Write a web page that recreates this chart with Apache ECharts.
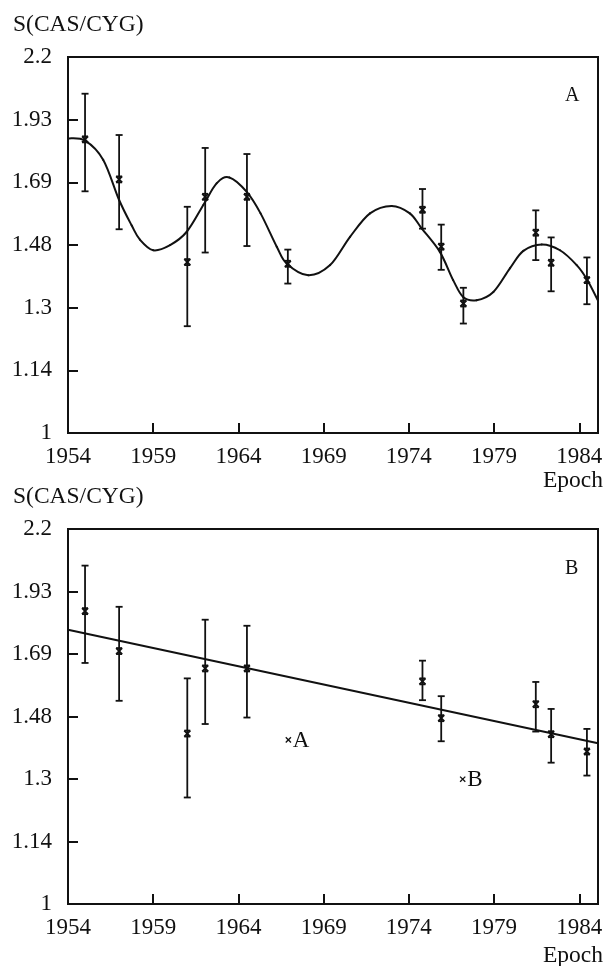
<!DOCTYPE html>
<html>
<head>
<meta charset="utf-8">
<script src="https://cdn.jsdelivr.net/npm/echarts@6/dist/echarts.min.js"></script>
<style>
  html, body { margin: 0; padding: 0; background: #fff; }
  #main { width: 606px; height: 966px; }
</style>
</head>
<body>
<div id="main"></div>
<script>
// measured flux ratios: epoch, value, lower and upper end of error bar
const epochs   = [1955.0, 1957.0, 1961.0, 1962.05, 1964.5, 1966.9, 1974.8, 1975.9, 1977.2, 1981.45, 1982.35, 1984.45];
const fluxS    = [1.851, 1.702, 1.431, 1.641, 1.641, 1.426, 1.597, 1.478, 1.312, 1.522, 1.429, 1.378];
const errLow   = [1.660, 1.533, 1.251, 1.460, 1.480, 1.368, 1.535, 1.408, 1.258, 1.437, 1.346, 1.310];
const errHigh  = [2.037, 1.868, 1.607, 1.818, 1.795, 1.469, 1.668, 1.548, 1.356, 1.595, 1.507, 1.445];

// fitted curve in panel A
const curveEpoch = [1954.0, 1955.0, 1956.07, 1957.0, 1957.74, 1958.22, 1959.0, 1959.99, 1960.97, 1961.94,
  1962.72, 1963.47, 1964.49, 1965.3, 1966.25, 1966.83, 1968.1, 1969.38, 1970.55, 1971.72, 1972.99,
  1974.06, 1974.75, 1975.82, 1976.6, 1977.19, 1977.98, 1978.96, 1979.94, 1980.72, 1981.8, 1982.87,
  1983.85, 1984.44, 1985.1];
const curveS = [1.855, 1.846, 1.773, 1.630, 1.545, 1.500, 1.467, 1.483, 1.525, 1.613,
  1.688, 1.709, 1.658, 1.585, 1.478, 1.427, 1.392, 1.422, 1.509, 1.585, 1.610,
  1.585, 1.536, 1.462, 1.378, 1.330, 1.321, 1.344, 1.413, 1.465, 1.485, 1.467,
  1.422, 1.381, 1.320];

// straight fit in panel B
const lineEpoch = [1954.0, 1985.1];
const lineS = [1.780, 1.402];

// points left out of the fit in panel B, drawn as labelled crosses
const dropInB = [5, 8];
const outEpoch = [1966.93, 1977.16];
const outS = [1.412, 1.300];
const outName = ['A', 'B'];

const yTickLabels = ['1', '1.14', '1.3', '1.48', '1.69', '1.93', '2.2'];
const yBase = Math.pow(2.2, 1 / 6);

const FONT = '"Liberation Serif", "Times New Roman", serif';
const INK = '#111';

const pointsA = epochs.map((e, i) => [e, fluxS[i], errLow[i], errHigh[i]]);
const pointsB = pointsA.filter((p, i) => dropInB.indexOf(i) < 0);

function errorBars(params, api) {
  const x = api.value(0);
  const mid = api.coord([x, api.value(1)]);
  const lo = api.coord([x, api.value(2)]);
  const hi = api.coord([x, api.value(3)]);
  const c = 3.5, m = 3;
  const st = { stroke: INK, lineWidth: 1.8 };
  const seg = (x1, y1, x2, y2) => ({ type: 'line', shape: { x1, y1, x2, y2 }, style: st });
  return {
    type: 'group',
    children: [
      seg(lo[0], lo[1], hi[0], hi[1]),
      seg(lo[0] - c, lo[1], lo[0] + c, lo[1]),
      seg(hi[0] - c, hi[1], hi[0] + c, hi[1]),
      seg(mid[0] - m, mid[1] - m, mid[0] + m, mid[1] + m),
      seg(mid[0] - m, mid[1] + m, mid[0] + m, mid[1] - m),
      seg(mid[0] - m, mid[1] - m, mid[0] + m, mid[1] - m),
      seg(mid[0] - m, mid[1] + m, mid[0] + m, mid[1] + m)
    ]
  };
}

// one smooth spline (catmull-rom) through the read-off curve points
function fittedCurve(params, api) {
  if (params.dataIndex !== 0) return null;
  const pts = curveEpoch.map((e, i) => api.coord([e, curveS[i]]));
  const kids = [];
  for (let i = 0; i < pts.length - 1; i++) {
    const p0 = pts[i - 1] || pts[i], p1 = pts[i], p2 = pts[i + 1], p3 = pts[i + 2] || pts[i + 1];
    kids.push({
      type: 'bezierCurve',
      shape: {
        x1: p1[0], y1: p1[1], x2: p2[0], y2: p2[1],
        cpx1: p1[0] + (p2[0] - p0[0]) / 6, cpy1: p1[1] + (p2[1] - p0[1]) / 6,
        cpx2: p2[0] - (p3[0] - p1[0]) / 6, cpy2: p2[1] - (p3[1] - p1[1]) / 6
      },
      style: { stroke: INK, lineWidth: 2, fill: null, lineCap: 'round' }
    });
  }
  return { type: 'group', children: kids };
}

function labelledCross(params, api) {
  const p = api.coord([api.value(0), api.value(1)]);
  const m = 2.6;
  const st = { stroke: INK, lineWidth: 1.3 };
  return {
    type: 'group',
    children: [
      { type: 'line', shape: { x1: p[0] - m, y1: p[1] - m, x2: p[0] + m, y2: p[1] + m }, style: st },
      { type: 'line', shape: { x1: p[0] - m, y1: p[1] + m, x2: p[0] + m, y2: p[1] - m }, style: st },
      { type: 'text', style: { text: outName[params.dataIndex], x: p[0] + 4.5, y: p[1] + 1,
        font: '23px ' + FONT, fill: INK, verticalAlign: 'middle' } }
    ]
  };
}

function xAxisFor(gridIndex) {
  return {
    type: 'value', gridIndex, min: 1954, max: 1985.1, interval: 5,
    axisLine: { lineStyle: { color: INK, width: 2 } },
    axisTick: { inside: true, length: 10, lineStyle: { color: INK, width: 2 } },
    axisLabel: {
      color: INK, fontFamily: FONT, fontSize: 23, margin: 12, showMaxLabel: false,
      formatter: v => String(v)
    },
    splitLine: { show: false }
  };
}

function yAxisFor(gridIndex) {
  return {
    type: 'log', gridIndex, logBase: yBase, min: 1, max: 2.2,
    axisLine: { lineStyle: { color: INK, width: 2 } },
    axisTick: { inside: true, length: 10, lineStyle: { color: INK, width: 2 } },
    axisLabel: {
      color: INK, fontFamily: FONT, fontSize: 23, margin: 16,
      formatter: v => yTickLabels[Math.round(Math.log(v) / Math.log(yBase))]
    },
    splitLine: { show: false }
  };
}

const chart = echarts.init(document.getElementById('main'));
chart.setOption({
  animation: false,
  backgroundColor: '#fff',
  grid: [
    { left: 68, top: 57, width: 530, height: 376, show: true, borderColor: INK, borderWidth: 2 },
    { left: 68, top: 529, width: 530, height: 375, show: true, borderColor: INK, borderWidth: 2 }
  ],
  xAxis: [xAxisFor(0), xAxisFor(1)],
  yAxis: [yAxisFor(0), yAxisFor(1)],
  graphic: [
    { type: 'text', left: 13, top: 13, style: { text: 'S(CAS/CYG)', font: '23.5px ' + FONT, fill: INK } },
    { type: 'text', left: 13, top: 485, style: { text: 'S(CAS/CYG)', font: '23.5px ' + FONT, fill: INK } },
    { type: 'text', left: 543, top: 469, style: { text: 'Epoch', font: '23.5px ' + FONT, fill: INK } },
    { type: 'text', left: 543, top: 944, style: { text: 'Epoch', font: '23.5px ' + FONT, fill: INK } },
    { type: 'text', left: 565, top: 86, style: { text: 'A', font: '20px ' + FONT, fill: INK } },
    { type: 'text', left: 565, top: 559, style: { text: 'B', font: '20px ' + FONT, fill: INK } }
  ],
  series: [
    {
      type: 'custom', xAxisIndex: 0, yAxisIndex: 0, renderItem: fittedCurve,
      encode: { x: 0, y: 1 }, data: curveEpoch.map((e, i) => [e, curveS[i]])
    },
    {
      type: 'custom', xAxisIndex: 0, yAxisIndex: 0, renderItem: errorBars,
      encode: { x: 0, y: [1, 2, 3] }, data: pointsA
    },
    {
      type: 'line', xAxisIndex: 1, yAxisIndex: 1, symbol: 'none',
      lineStyle: { color: INK, width: 2 },
      data: lineEpoch.map((e, i) => [e, lineS[i]])
    },
    {
      type: 'custom', xAxisIndex: 1, yAxisIndex: 1, renderItem: errorBars,
      encode: { x: 0, y: [1, 2, 3] }, data: pointsB
    },
    {
      type: 'custom', xAxisIndex: 1, yAxisIndex: 1, renderItem: labelledCross,
      encode: { x: 0, y: 1 }, data: outEpoch.map((e, i) => [e, outS[i]])
    }
  ]
});
</script>
</body>
</html>
